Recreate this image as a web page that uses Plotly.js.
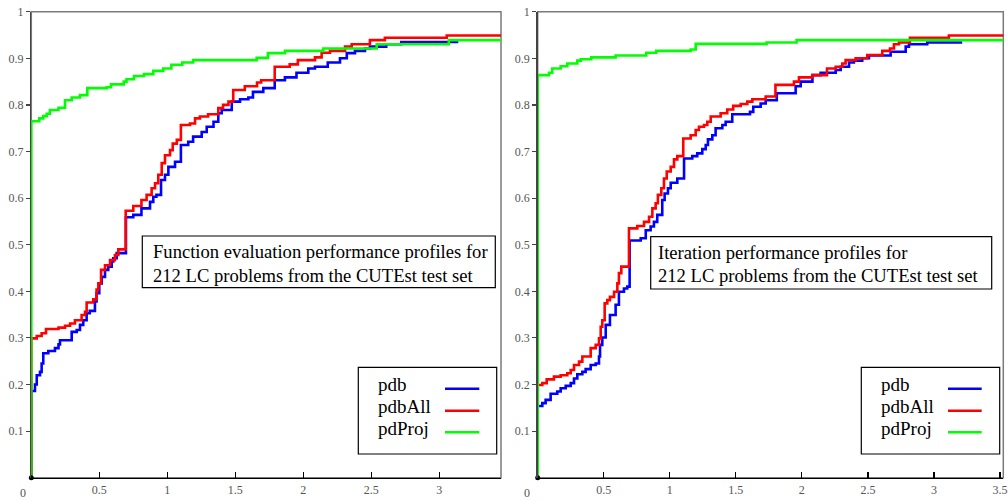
<!DOCTYPE html>
<html>
<head>
<meta charset="utf-8">
<script src="https://cdn.plot.ly/plotly-3.0.1.min.js"></script>
<style>html,body{margin:0;padding:0;background:#fff;}#chart{width:1008px;height:501px;}</style>
</head>
<body>
<div id="chart"></div>
<script>
// ---------- DATA ----------
const seriesNames = ["pdb", "pdbAll", "pdProj"];
const seriesColors = ["#0000ff", "#ff0000", "#00ff00"];
const panelTitles = [
  ["Function evaluation performance profiles for", "212 LC problems from the CUTEst test set"],
  ["Iteration performance profiles for", "212 LC problems from the CUTEst test set"]
];
const xTickVals = [0.5, 1, 1.5, 2, 2.5, 3, 3.5];
const xTickText = ["0.5", "1", "1.5", "2", "2.5", "3", "3.5"];
const xZeroLabel = "0";
const yTickVals = [0.1, 0.2, 0.3, 0.4, 0.5, 0.6, 0.7, 0.8, 0.9, 1];
const yTickText = ["0.1", "0.2", "0.3", "0.4", "0.5", "0.6", "0.7", "0.8", "0.9", "1"];
const origin = {x: [0], y: [0]};

// Panel 1: function evaluations
const fe_pdb_x = [0, 0, 0.027, 0.04, 0.064, 0.076, 0.088, 0.125, 0.174, 0.2, 0.211, 0.297, 0.334, 0.358, 0.382, 0.407, 0.43, 0.468, 0.48, 0.5, 0.518, 0.542, 0.566, 0.591, 0.603, 0.628, 0.696, 0.75, 0.81, 0.873, 0.897, 0.92, 0.954, 0.983, 1.008, 1.057, 1.1, 1.154, 1.19, 1.253, 1.29, 1.34, 1.375, 1.40, 1.474, 1.535, 1.596, 1.63, 1.706, 1.79, 1.865, 1.95, 2.037, 2.086, 2.18, 2.27, 2.32, 2.38, 2.454, 2.49, 2.61, 2.72, 3.14];
const fe_pdb_y = [0, 0.186, 0.2, 0.22, 0.227, 0.245, 0.267, 0.272, 0.278, 0.286, 0.295, 0.313, 0.317, 0.328, 0.338, 0.353, 0.358, 0.378, 0.396, 0.417, 0.431, 0.446, 0.453, 0.464, 0.471, 0.482, 0.559, 0.564, 0.578, 0.592, 0.603, 0.607, 0.639, 0.65, 0.667, 0.678, 0.714, 0.721, 0.732, 0.742, 0.753, 0.764, 0.782, 0.789, 0.807, 0.812, 0.816, 0.828, 0.836, 0.853, 0.859, 0.869, 0.878, 0.882, 0.891, 0.9, 0.911, 0.916, 0.921, 0.925, 0.93, 0.935, 0.935];

const fe_pdbAll_x = [0, 0, 0.04, 0.076, 0.108, 0.2, 0.248, 0.285, 0.321, 0.37, 0.395, 0.407, 0.456, 0.48, 0.493, 0.513, 0.542, 0.579, 0.615, 0.64, 0.694, 0.75, 0.81, 0.848, 0.885, 0.91, 0.934, 0.959, 0.983, 1.02, 1.04, 1.07, 1.1, 1.167, 1.204, 1.24, 1.30, 1.375, 1.41, 1.45, 1.485, 1.57, 1.66, 1.69, 1.79, 1.90, 1.96, 2.086, 2.135, 2.196, 2.307, 2.356, 2.49, 2.60, 3.055, 3.6];
const fe_pdbAll_y = [0, 0.299, 0.304, 0.31, 0.319, 0.322, 0.326, 0.331, 0.338, 0.349, 0.356, 0.376, 0.383, 0.404, 0.417, 0.446, 0.456, 0.467, 0.478, 0.49, 0.573, 0.583, 0.596, 0.607, 0.621, 0.632, 0.65, 0.675, 0.692, 0.703, 0.717, 0.725, 0.757, 0.76, 0.771, 0.775, 0.78, 0.793, 0.8, 0.807, 0.832, 0.84, 0.848, 0.853, 0.882, 0.887, 0.896, 0.902, 0.912, 0.916, 0.925, 0.93, 0.939, 0.944, 0.949, 0.949];

const fe_pdProj_x = [0, 0, 0.059, 0.088, 0.113, 0.137, 0.2, 0.248, 0.297, 0.358, 0.412, 0.554, 0.586, 0.68, 0.7, 0.755, 0.829, 0.897, 0.97, 1.03, 1.11, 1.19, 1.657, 1.74, 1.865, 2.147, 2.54, 3.07, 3.6];
const fe_pdProj_y = [0, 0.765, 0.771, 0.776, 0.781, 0.789, 0.794, 0.81, 0.816, 0.821, 0.836, 0.838, 0.844, 0.85, 0.855, 0.862, 0.866, 0.873, 0.878, 0.886, 0.891, 0.896, 0.901, 0.911, 0.916, 0.921, 0.93, 0.939, 0.939];

// Panel 2: iterations
const it_pdb_x = [0, 0, 0.035, 0.06, 0.098, 0.148, 0.174, 0.212, 0.25, 0.275, 0.3, 0.338, 0.363, 0.401, 0.439, 0.464, 0.472, 0.489, 0.515, 0.547, 0.59, 0.615, 0.653, 0.678, 0.696, 0.78, 0.818, 0.855, 0.88, 0.905, 0.943, 0.961, 0.986, 1.007, 1.057, 1.108, 1.17, 1.208, 1.246, 1.272, 1.289, 1.322, 1.347, 1.398, 1.423, 1.473, 1.607, 1.632, 1.688, 1.726, 1.81, 1.953, 1.991, 2.08, 2.142, 2.256, 2.294, 2.357, 2.394, 2.457, 2.508, 2.672, 2.786, 2.811, 2.949, 3.214];
const it_pdb_y = [0, 0.154, 0.16, 0.167, 0.18, 0.185, 0.192, 0.197, 0.203, 0.213, 0.222, 0.227, 0.233, 0.242, 0.245, 0.26, 0.285, 0.301, 0.328, 0.349, 0.371, 0.399, 0.406, 0.41, 0.509, 0.514, 0.531, 0.539, 0.549, 0.564, 0.596, 0.61, 0.621, 0.633, 0.642, 0.685, 0.69, 0.696, 0.705, 0.714, 0.726, 0.735, 0.75, 0.757, 0.764, 0.78, 0.785, 0.796, 0.803, 0.81, 0.825, 0.84, 0.85, 0.864, 0.869, 0.875, 0.882, 0.891, 0.895, 0.9, 0.906, 0.914, 0.925, 0.93, 0.934, 0.934];

const it_pdbAll_x = [0, 0, 0.035, 0.068, 0.123, 0.174, 0.224, 0.25, 0.275, 0.313, 0.338, 0.401, 0.439, 0.464, 0.477, 0.489, 0.507, 0.527, 0.547, 0.578, 0.603, 0.615, 0.633, 0.691, 0.754, 0.805, 0.843, 0.868, 0.893, 0.91, 0.936, 0.956, 0.977, 1.007, 1.032, 1.057, 1.102, 1.158, 1.196, 1.221, 1.259, 1.284, 1.31, 1.385, 1.435, 1.48, 1.537, 1.587, 1.625, 1.726, 1.80, 1.94, 1.978, 2.079, 2.19, 2.256, 2.306, 2.331, 2.407, 2.495, 2.609, 2.667, 2.697, 2.735, 2.818, 3.113, 3.6];
const it_pdbAll_y = [0, 0.199, 0.203, 0.211, 0.217, 0.22, 0.224, 0.231, 0.242, 0.249, 0.26, 0.278, 0.285, 0.299, 0.324, 0.338, 0.374, 0.381, 0.388, 0.399, 0.417, 0.439, 0.453, 0.535, 0.54, 0.549, 0.56, 0.578, 0.589, 0.607, 0.621, 0.642, 0.657, 0.667, 0.683, 0.69, 0.728, 0.735, 0.746, 0.753, 0.757, 0.764, 0.775, 0.782, 0.79, 0.798, 0.802, 0.807, 0.812, 0.818, 0.843, 0.85, 0.859, 0.864, 0.878, 0.882, 0.889, 0.896, 0.9, 0.907, 0.916, 0.921, 0.93, 0.934, 0.944, 0.949, 0.949];

const it_pdProj_x = [0, 0, 0.086, 0.11, 0.174, 0.224, 0.3, 0.326, 0.406, 0.59, 0.822, 0.898, 1.158, 1.196, 1.733, 1.96, 3.6];
const it_pdProj_y = [0, 0.864, 0.869, 0.878, 0.883, 0.889, 0.895, 0.898, 0.902, 0.906, 0.912, 0.916, 0.919, 0.931, 0.934, 0.939, 0.939];

const xRanges = [[0, 3.454], [0, 3.525]];

// ---------- LAYOUT HELPERS ----------
const W = 1008, H = 501;
const px = v => v / W;
const py = v => 1 - v / H;
const FONT = "'Liberation Serif', 'Times New Roman', serif";

const panels = [
  {xs: [fe_pdb_x, fe_pdbAll_x, fe_pdProj_x], ys: [fe_pdb_y, fe_pdbAll_y, fe_pdProj_y], xa: 'x', ya: 'y'},
  {xs: [it_pdb_x, it_pdbAll_x, it_pdProj_x], ys: [it_pdb_y, it_pdbAll_y, it_pdProj_y], xa: 'x2', ya: 'y2'}
];

const traces = [];
panels.forEach(p => {
  for (let i = 0; i < 3; i++) {
    traces.push({x: p.xs[i], y: p.ys[i], xaxis: p.xa, yaxis: p.ya, type: 'scatter', mode: 'lines',
      line: {shape: 'hv', color: seriesColors[i], width: 2.6}, name: seriesNames[i], hoverinfo: 'skip', cliponaxis: true});
  }
  traces.push({x: origin.x, y: origin.y, xaxis: p.xa, yaxis: p.ya, type: 'scatter', mode: 'markers',
    marker: {color: '#000', size: 5}, cliponaxis: false, hoverinfo: 'skip'});
});

function xaxisDef(domain, range) {
  return {domain: domain, range: range, tickvals: xTickVals, ticktext: xTickText, ticks: 'inside', ticklen: 6,
    tickwidth: 1.2, tickcolor: '#000', showline: true, linecolor: '#000', linewidth: 1.5, showgrid: false,
    zeroline: false, fixedrange: true, automargin: false,
    tickfont: {family: FONT, size: 12, color: '#555'}};
}
function yaxisDef(anchor) {
  return {domain: [1 - 477.7 / H, 1 - 11.7 / H], range: [0, 1], tickvals: yTickVals, ticktext: yTickText,
    ticks: 'outside', ticklen: 4, tickwidth: 1.2, tickcolor: '#444', showline: true, linecolor: '#444', linewidth: 1.5,
    showgrid: false, zeroline: false, fixedrange: true, automargin: false, anchor: anchor,
    tickfont: {family: FONT, size: 12, color: '#555'}};
}

const shapes = [];
const annotations = [];
['x', 'x2'].forEach((xa, k) => {
  const ya = k === 0 ? 'y' : 'y2';
  shapes.push({type: 'rect', xref: xa + ' domain', yref: ya + ' domain', x0: 0, x1: 1, y0: 0, y1: 1,
    line: {color: '#7a7a7a', width: 1.5}, layer: 'below'});
});

// "0" x-tick labels (set slightly left of the axis corner, as in the reference)
[23, 527].forEach(xp => {
  annotations.push({xref: 'paper', yref: 'paper', x: px(xp), y: py(492.5), xanchor: 'center', yanchor: 'middle',
    text: xZeroLabel, showarrow: false, font: {family: FONT, size: 12, color: '#555'}});
});

// title boxes (inside plots)
const boxes = [
  {x0: 142.3, x1: 495.3, y0: 236, y1: 287.7, tx: 151},
  {x0: 650.7, x1: 991.7, y0: 236.7, y1: 289, tx: 656}
];
boxes.forEach((b, k) => {
  shapes.push({type: 'rect', xref: 'paper', yref: 'paper', x0: px(b.x0), x1: px(b.x1), y0: py(b.y1), y1: py(b.y0),
    line: {color: '#000', width: 1.2}, fillcolor: '#fff', layer: 'above'});
  panelTitles[k].forEach((t, j) => {
    annotations.push({xref: 'paper', yref: 'paper', x: px(b.tx), y: py(b.y0 + 16 + j * 23), xanchor: 'left', yanchor: 'middle',
      text: t, showarrow: false, font: {family: FONT, size: 18.6, color: '#000'}});
  });
});

// legends
const legends = [
  {x0: 358.3, x1: 496.7, tx: 376, l0: 445, l1: 479.3},
  {x0: 861.3, x1: 999.7, tx: 879, l0: 948, l1: 981.7}
];
const legTextY = [384, 406, 428];
const legLineY = [388.7, 410.7, 432.3];
legends.forEach(L => {
  shapes.push({type: 'rect', xref: 'paper', yref: 'paper', x0: px(L.x0), x1: px(L.x1), y0: py(454), y1: py(367.3),
    line: {color: '#000', width: 1.2}, fillcolor: '#fff', layer: 'above'});
  seriesNames.forEach((n, i) => {
    annotations.push({xref: 'paper', yref: 'paper', x: px(L.tx), y: py(legTextY[i]), xanchor: 'left', yanchor: 'middle',
      text: n, showarrow: false, font: {family: FONT, size: 19, color: '#000'}});
    shapes.push({type: 'line', xref: 'paper', yref: 'paper', x0: px(L.l0), x1: px(L.l1), y0: py(legLineY[i]), y1: py(legLineY[i]),
      line: {color: seriesColors[i], width: 2.6}, layer: 'above'});
  });
});

const layout = {
  width: W, height: H, margin: {l: 0, r: 0, t: 0, b: 0},
  paper_bgcolor: '#fff', plot_bgcolor: '#fff', showlegend: false,
  xaxis: Object.assign(xaxisDef([31.3 / W, 501 / W], xRanges[0]), {anchor: 'y'}),
  yaxis: yaxisDef('x'),
  xaxis2: Object.assign(xaxisDef([537.7 / W, 1003.3 / W], xRanges[1]), {anchor: 'y2'}),
  yaxis2: yaxisDef('x2'),
  shapes: shapes, annotations: annotations
};

Plotly.newPlot('chart', traces, layout, {staticPlot: true, displayModeBar: false});
</script>
</body>
</html>
